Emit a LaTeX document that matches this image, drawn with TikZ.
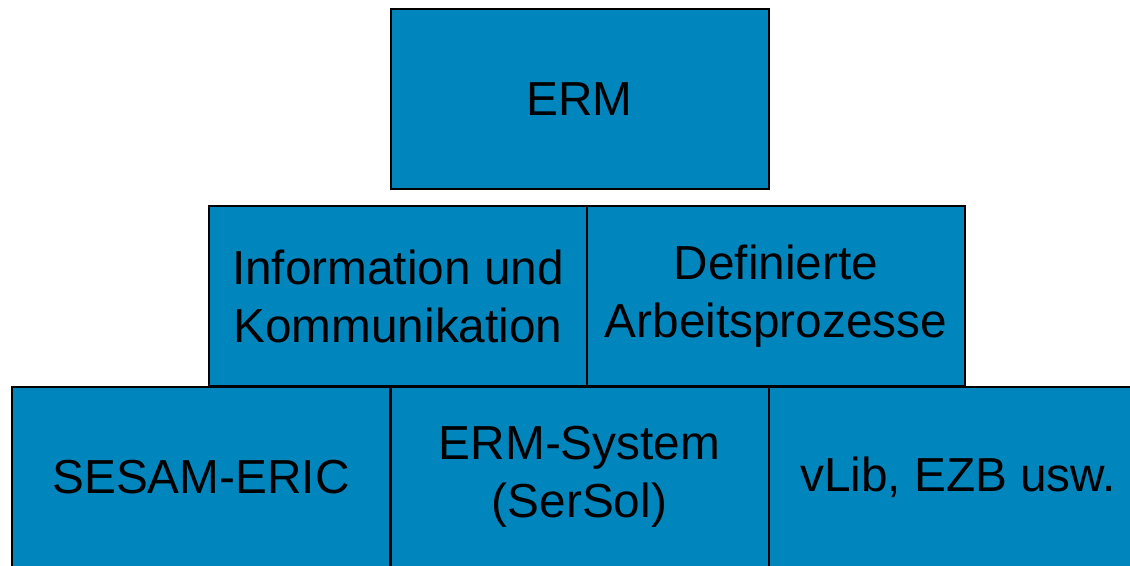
\documentclass[tikz,border=0pt]{standalone}
\usepackage{fontspec}
\setmainfont{Liberation Sans}
\usepackage{tikz}
\definecolor{ermblue}{RGB}{0,133,188}

\begin{document}
\begin{tikzpicture}[x=0.75pt,y=0.75pt,yscale=-1,xscale=1,
  block/.style={draw=black,line width=1.5pt,fill=ermblue,rectangle,
    minimum width=283.5pt,minimum height=135pt,inner sep=0.75pt,align=center,
    font=\fontsize{35.8}{43.5}\selectfont}]
\useasboundingbox (0,0) rectangle (1130,566);
\clip (0,0) rectangle (1130,566);
% top
\node [block] (erm) at (579.5,99.5) {ERM};
% middle row
\node [block] (info) at (398,296) {Information und\\Kommunikation};
\node [block] (defarb) at (776,296) {Definierte\\Arbeitsprozesse};
% bottom row
\node [block] (sesam) at (201,477) {SESAM-ERIC};
\node [block] (ermsys) at (579.5,477) {ERM-System\\(SerSol)};
\node [block] (vlib) at (958,477) {vLib, EZB usw.};
\end{tikzpicture}
\end{document}
